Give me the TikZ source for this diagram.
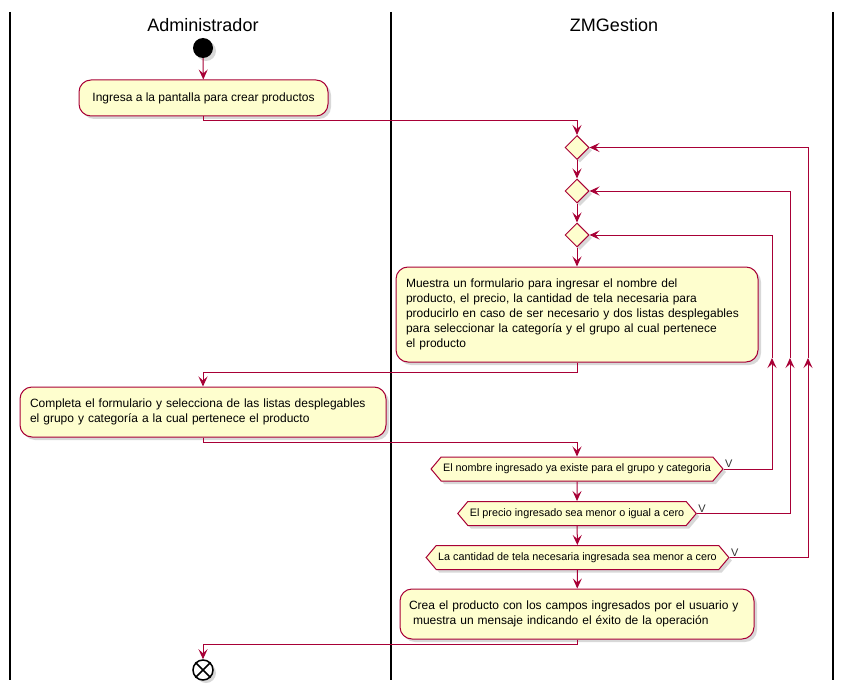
\documentclass[tikz,border=0pt]{standalone}
\usepackage{fontspec}
\setmainfont{Liberation Sans}
\usetikzlibrary{arrows.meta, shapes.geometric, shapes.symbols, shadows}

\definecolor{umlred}{HTML}{A80036}
\definecolor{umlfill}{HTML}{FEFECE}

\begin{document}
\begin{tikzpicture}[x=1pt, y=-1pt,
  shade/.style={drop shadow={shadow xshift=3pt, shadow yshift=-3pt, opacity=.3}},
  act/.style={draw=umlred, fill=umlfill, line width=1pt, rounded corners=12pt, inner xsep=10pt, font=\fontsize{12}{15}\selectfont, shade},
  choice/.style={diamond, draw=umlred, fill=umlfill, line width=1pt, minimum width=24pt, minimum height=24pt, inner sep=0pt, shade},
  check/.style={signal, signal to=west and east, signal pointer angle=100, draw=umlred, fill=umlfill, line width=1pt, minimum height=24pt, inner xsep=2pt, font=\fontsize{10.8}{13}\selectfont, shade},
  startnode/.style={circle, fill=black, minimum size=20pt, inner sep=0pt, shade},
  stopnode/.style={circle, draw=black, fill=white, line width=1.5pt, minimum size=20pt, inner sep=0pt, shade},
  flow/.style={draw=umlred, line width=1pt, -{Stealth[length=10pt, width=9pt, inset=4pt]}},
  yeslabel/.style={anchor=south west, inner sep=1pt, font=\fontsize{11}{13}\selectfont, text=black!80},
  lane/.style={draw=black, line width=1.5pt},
  lanetitle/.style={font=\fontsize{18}{20}\selectfont}
]
\fill[white] (0,0) rectangle (843,690);
\useasboundingbox (0,0) rectangle (843,690);

% swimlanes
\draw[lane] (10,12) -- (10,680);
\draw[lane] (391,12) -- (391,680);
\draw[lane] (833,12) -- (833,680);
\node[lanetitle] (admin) at (203,25) {Administrador};
\node[lanetitle] (zmg) at (614,25) {ZMGestion};

\node[startnode] (start) at (203,48) {};
\node[act, minimum width=249pt, minimum height=36pt] (ingresa) at (203.5,98) {Ingresa a la pantalla para crear productos};
\node[choice] (c1) at (577,147.5) {};
\node[choice] (c2) at (577,191) {};
\node[choice] (c3) at (577,235) {};
\node[act, align=left, text width=342pt, minimum height=95pt] (muestra) at (577,314.5) {Muestra un formulario para ingresar el nombre del\\producto, el precio, la cantidad de tela necesaria para\\producirlo en caso de ser necesario y dos listas desplegables\\para seleccionar la categoría y el grupo al cual pertenece\\el producto};
\node[act, align=left, text width=346pt, minimum height=50pt] (completa) at (203,412) {Completa el formulario y selecciona de las listas desplegables\\el grupo y categoría a la cual pertenece el producto};
\node[check] (nombre) at (577,469) {El nombre ingresado ya existe para el grupo y categoria};
\node[check] (precio) at (577,513.5) {El precio ingresado sea menor o igual a cero};
\node[check] (tela) at (577.5,557.5) {La cantidad de tela necesaria ingresada sea menor a cero};
\node[act, align=left, text width=336pt, inner xsep=9pt, minimum height=50pt] (crea) at (577,614) {Crea el producto con los campos ingresados por el usuario y\\\ muestra un mensaje indicando el éxito de la operación};
\node[stopnode] (stop) at (203,670) {};
\draw[line width=1.5pt] (stop.45) -- (stop.225) (stop.135) -- (stop.-45);

% loop arrows
\coordinate (up1) at (772,358);
\coordinate (up2) at (790,358);
\coordinate (up3) at (808,358);

\draw[flow] (start) -- (ingresa);
\draw[flow] (ingresa.south) -- ++(0,4) -| (c1.north);
\draw[flow] (c1) -- (c2);
\draw[flow] (c2) -- (c3);
\draw[flow] (c3) -- (muestra);
\draw[flow] (muestra.south) -- ++(0,10) -| (completa.north);
\draw[flow] (completa.south) -- ++(0,5) -| (nombre.north);
\draw[flow] (nombre) -- (precio);
\draw[flow] (precio) -- (tela);
\draw[flow] (tela) -- (crea);
\draw[flow] (crea.south) -- ++(0,5) -| (stop.north);
\draw[flow] (nombre.east) node[yeslabel]{V} -| (up1);
\draw[flow] (up1) |- (c3.east);
\draw[flow] (precio.east) node[yeslabel]{V} -| (up2);
\draw[flow] (up2) |- (c2.east);
\draw[flow] (tela.east) node[yeslabel]{V} -| (up3);
\draw[flow] (up3) |- (c1.east);
\end{tikzpicture}
\end{document}
